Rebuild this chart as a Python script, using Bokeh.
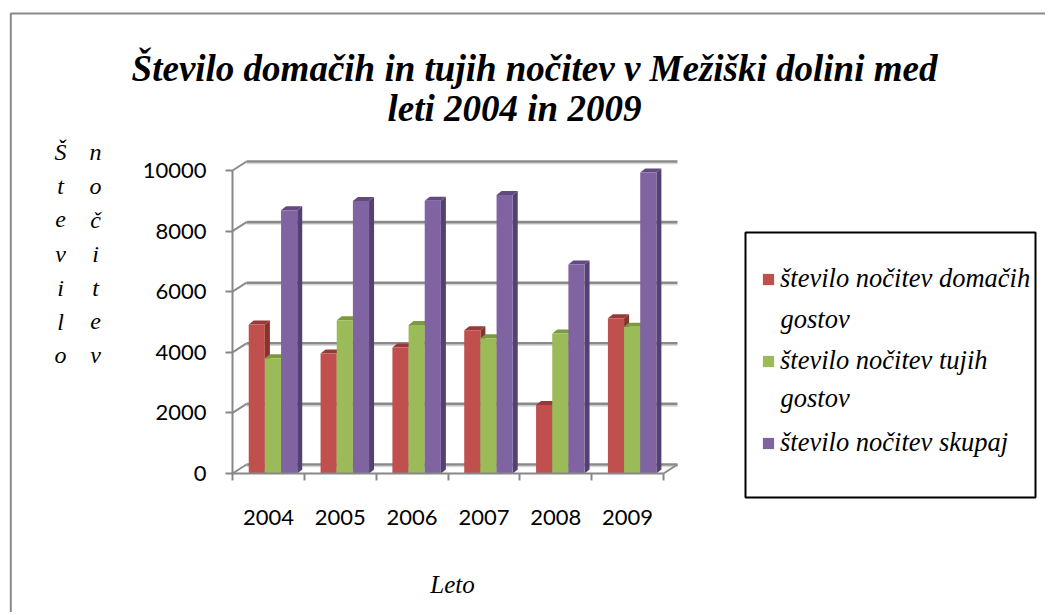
from bokeh.plotting import figure
from bokeh.models import Range1d, FixedTicker, Label, Legend, LegendItem
from bokeh.embed import file_html
from bokeh.resources import INLINE

# ---------------- data ----------------
years = ["2004", "2005", "2006", "2007", "2008", "2009"]
domaci = [4920, 3960, 4160, 4730, 2260, 5120]
tuji = [3800, 5060, 4900, 4460, 4620, 4840]
skupaj = [8690, 8990, 9000, 9190, 6900, 9930]
series_first_lines = ["število nočitev domačih", "število nočitev tujih", "število nočitev skupaj"]
series_second_lines = ["gostov", "gostov", ""]
y_ticks = [0, 2000, 4000, 6000, 8000, 10000]
title_lines = ["Število domačih in tujih nočitev v Mežiški dolini med",
               "leti 2004 in 2009"]
y_title_cols = ["Število", "nočitev"]
x_title = "Leto"

SERIF = "'Liberation Serif', 'Times New Roman', serif"

# ---------------- layout (page pixels) ----------------
PX0, PY0 = 0, 0            # canvas origin on the page
W, H = 1045, 612
AX_L, AX_R = 232, 663      # front category axis ends
Y0, YTOP = 473, 170        # value 0 and value 10000 on front axis
n = len(years)
PXX = (AX_R - AX_L) / n
PYV = (Y0 - YTOP) / y_ticks[-1]


def X(px):
    return (px - AX_L) / PXX + 0.5


def V(py):
    return (Y0 - py) / PYV


def ddx(px):
    return px / PXX


def ddv(px):
    return px / PYV


p = figure(width=W, height=H, output_backend="svg", toolbar_location=None,
           x_range=Range1d(X(PX0), X(PX0 + W)), y_range=Range1d(V(PY0 + H), V(PY0)),
           min_border=0, min_border_left=0, min_border_right=0,
           min_border_top=0, min_border_bottom=0)
p.outline_line_color = None
p.grid.visible = False
p.background_fill_color = "white"
p.border_fill_color = "white"

AXC = "#878787"
# y axis (fixed at the front-left edge of the plot area)
yax = p.yaxis[0]
yax.fixed_location = 0.5
yax.ticker = FixedTicker(ticks=y_ticks)
yax.bounds = (y_ticks[0], y_ticks[-1])
yax.axis_line_color = AXC
yax.axis_line_width = 2
yax.major_tick_line_color = AXC
yax.major_tick_line_width = 2
yax.major_tick_out = 7
yax.major_tick_in = 0
yax.minor_tick_line_color = None
yax.major_label_text_font = "Lato"
yax.major_label_text_font_size = "22px"
yax.major_label_text_color = "black"
yax.major_label_standoff = 19

# x axis (fixed at value 0)
xax = p.xaxis[0]
xax.fixed_location = 0
xax.ticker = FixedTicker(ticks=[i + 1 for i in range(n)],
                         minor_ticks=[i + 0.5 for i in range(n + 1)])
xax.major_label_overrides = {i + 1: y for i, y in enumerate(years)}
xax.bounds = (0.5, n + 0.5)
xax.axis_line_color = AXC
xax.axis_line_width = 2
xax.major_tick_line_color = None
xax.major_tick_out = 0
xax.major_tick_in = 0
xax.minor_tick_line_color = AXC
xax.minor_tick_line_width = 2
xax.minor_tick_out = 7
xax.minor_tick_in = 0
xax.major_label_text_font = "Lato"
xax.major_label_text_font_size = "22px"
xax.major_label_text_color = "black"
xax.major_label_standoff = 29

# outer chart border (left and top edges visible)
p.line(x=[X(10.3), X(10.3), X(1100)], y=[V(700), V(13), V(13)],
       line_color="#8a8a8a", line_width=2)

# back wall (3D look)
dX, dY = ddx(14), ddv(9)
GRID = "#8a8a8a"
p.segment(x0=[0.5 + dX] * len(y_ticks), y0=[t + dY - ddv(2) for t in y_ticks],
          x1=[n + 0.5 + dX] * len(y_ticks), y1=[t + dY - ddv(2) for t in y_ticks],
          line_color="#d9d9d9", line_width=1.5)
p.segment(x0=[0.5 + dX] * len(y_ticks), y0=[t + dY for t in y_ticks],
          x1=[n + 0.5 + dX] * len(y_ticks), y1=[t + dY for t in y_ticks],
          line_color=GRID, line_width=2.6)
p.segment(x0=[0.5] * len(y_ticks), y0=y_ticks,
          x1=[0.5 + dX] * len(y_ticks), y1=[t + dY for t in y_ticks],
          line_color=GRID, line_width=2)
p.segment(x0=[n + 0.5], y0=[0], x1=[n + 0.5 + dX], y1=[dY],
          line_color=GRID, line_width=2)

# bars
offsets = [-0.1615, 0.0635, 0.2885]
bw = 0.225
bdx, bdy = ddx(5), ddv(4)
fronts = ["#C0504D", "#9BBB59", "#8064A2"]
tops = ["#973A37", "#7A9A3E", "#604A80"]
sides = ["#85332F", "#6B8836", "#534172"]
series = [domaci, tuji, skupaj]

for s, vals in enumerate(series):
    xs_side, ys_side, xs_top, ys_top = [], [], [], []
    for i, v in enumerate(vals):
        xc = i + 1 + offsets[s]
        xl, xr = xc - bw / 2, xc + bw / 2
        xs_side.append([xr, xr + bdx, xr + bdx, xr])
        ys_side.append([0, bdy, v + bdy, v])
        xs_top.append([xl, xr, xr + bdx, xl + bdx])
        ys_top.append([v, v, v + bdy, v + bdy])
    p.patches(xs_side, ys_side, fill_color=sides[s], line_color=None)
    p.patches(xs_top, ys_top, fill_color=tops[s], line_color=None)

renderers = []
for s, vals in enumerate(series):
    r = p.vbar(x=[i + 1 + offsets[s] for i in range(n)], top=vals, bottom=0,
               width=bw, fill_color=fronts[s], line_color=None)
    renderers.append(r)

# legend frame
p.quad(left=[X(745)], right=[X(1035)], top=[V(232)], bottom=[V(497)],
       fill_color="white", line_color="black", line_width=2)

LEG_H = 40
leg_bot = 442.5 + LEG_H / 2
legend = Legend(items=[LegendItem(label=series_first_lines[k], renderers=[renderers[k]])
                       for k in range(3)],
                location=(761 - PX0, PY0 + H - leg_bot),
                padding=0, spacing=int(round(81.5 - LEG_H)), margin=0,
                border_line_color=None, background_fill_alpha=0,
                glyph_width=14, glyph_height=14, label_standoff=5,
                label_height=LEG_H,
                label_text_font=SERIF, label_text_font_style="italic",
                label_text_font_size="26.5px", label_text_color="black")
p.add_layout(legend)

second_line_y = [318, 397, 0]
for k in range(3):
    if series_second_lines[k]:
        p.add_layout(Label(x=X(780), y=V(second_line_y[k]), text=series_second_lines[k],
                           text_align="left", text_baseline="alphabetic",
                           text_font=SERIF, text_font_style="italic",
                           text_font_size="26.5px", text_color="black"))

# titles
title_pos = [(534, 68), (514, 108)]
for txt, (tx, ty) in zip(title_lines, title_pos):
    p.add_layout(Label(x=X(tx), y=V(ty), text=txt, text_align="center",
                       text_baseline="alphabetic", text_font=SERIF,
                       text_font_style="bold italic", text_font_size="37px",
                       text_color="black"))

col_x = [60, 95]
for c, word in enumerate(y_title_cols):
    for r, ch in enumerate(word):
        p.add_layout(Label(x=X(col_x[c]), y=V(151.5 + r * 33.9), text=ch,
                           text_align="center", text_baseline="alphabetic",
                           text_font=SERIF, text_font_style="italic",
                           text_font_size="24px", text_color="black"))

p.add_layout(Label(x=X(452), y=V(584), text=x_title, text_align="center",
                   text_baseline="alphabetic", text_font=SERIF,
                   text_font_style="italic", text_font_size="25px", text_color="black"))

open("out.html", "w").write(file_html(p, INLINE))
